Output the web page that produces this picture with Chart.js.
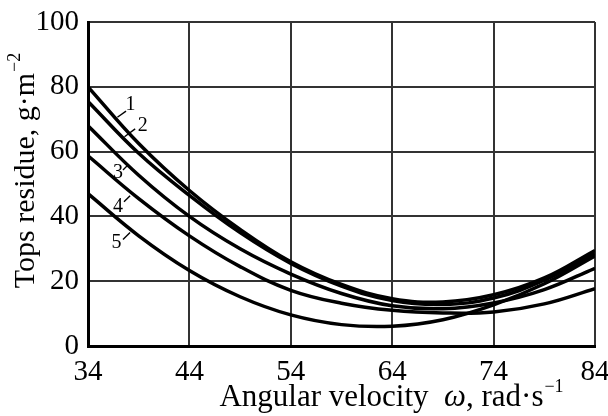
<!DOCTYPE html>
<html>
<head>
<meta charset="utf-8">
<script src="https://cdn.jsdelivr.net/npm/chart.js@4"></script>
<style>
  html, body { margin: 0; padding: 0; background: #fff; }
  #wrap { width: 608px; height: 416px; }
</style>
</head>
<body>
<div id="wrap"><canvas id="chart"></canvas></div>
<script>
/* ── Data ─────────────────────────────────────────── */
const omega = [34, 39, 44, 49, 54, 59, 64, 69, 74, 79, 84];
const curve1 = [80, 62.5, 48, 36, 26, 19, 14.6, 13.6, 15.8, 21, 29.5];
const curve2 = [75.5, 59.5, 46.5, 35, 25.5, 18.5, 14, 12.8, 14.8, 20.3, 28.5];
const curve3 = [68, 52.7, 40, 30, 22.2, 16.2, 12.4, 11.5, 13.3, 17.4, 24];
const curve4 = [58.7, 45.5, 34, 24.5, 17.2, 13.2, 11, 10.2, 10.5, 13, 17.7];
const curve5 = [47, 34, 23.3, 15.2, 9.6, 6.6, 6.1, 8.1, 12.7, 19.2, 27.8];
const xTicks = [34, 44, 54, 64, 74, 84];
const yTicks = [0, 20, 40, 60, 80, 100];

// curve numbers and their leader lines (data units)
const labelText = ['1', '2', '3', '4', '5'];
const labelX = [38.2, 39.4, 36.95, 36.95, 36.8];
const labelY = [74.4, 67.9, 53.4, 43.1, 31.8];
const leaders = [
  [36.9, 70.6, 37.75, 72.5],
  [37.6, 64.6, 38.65, 67.0],
  [37.45, 54.3, 37.95, 55.9],
  [37.55, 44.5, 38.15, 46.4],
  [37.45, 32.9, 38.15, 35.0]
];

const SERIF = '"Liberation Serif", "Times New Roman", serif';

/* ── Plugin: teks sumbu & nomor kurva ─────────────── */
const decor = {
  id: 'decor',
  afterDraw(chart) {
    const { ctx, scales: { x, y } } = chart;
    ctx.save();
    ctx.fillStyle = '#000';
    ctx.strokeStyle = '#000';

    // nomor kurva
    ctx.font = '20px ' + SERIF;
    ctx.textAlign = 'center';
    ctx.textBaseline = 'middle';
    labelText.forEach((t, i) => {
      ctx.fillText(t, x.getPixelForValue(labelX[i]), y.getPixelForValue(labelY[i]));
      const l = leaders[i];
      ctx.lineWidth = 1.4;
      ctx.beginPath();
      ctx.moveTo(x.getPixelForValue(l[0]), y.getPixelForValue(l[1]));
      ctx.lineTo(x.getPixelForValue(l[2]), y.getPixelForValue(l[3]));
      ctx.stroke();
    });

    // judul sumbu X
    ctx.textAlign = 'left';
    ctx.textBaseline = 'alphabetic';
    const f = '31px ' + SERIF, fi = 'italic 31px ' + SERIF, fs = '18px ' + SERIF;
    const parts = [['Angular velocity  ', f], ['\u03c9', fi], [', rad\u00b7s', f]];
    let w = 0;
    parts.forEach(p => { ctx.font = p[1]; w += ctx.measureText(p[0]).width; });
    ctx.font = fs; const supW = ctx.measureText('\u22121').width;
    let cx = 391 - (w + supW) / 2;
    const base = 406;
    parts.forEach(p => { ctx.font = p[1]; ctx.fillText(p[0], cx, base); cx += ctx.measureText(p[0]).width; });
    ctx.font = fs; ctx.fillText('\u22121', cx + 1, base - 14);

    // judul sumbu Y
    ctx.translate(34, 171);
    ctx.rotate(-Math.PI / 2);
    ctx.font = '30px ' + SERIF;
    const yt = 'Tops residue, g\u00b7m';
    const ytW = ctx.measureText(yt).width;
    ctx.font = fs; const sup2 = ctx.measureText('\u22122').width;
    const sx = -(ytW + sup2) / 2;
    ctx.font = '30px ' + SERIF; ctx.fillText(yt, sx, 0);
    ctx.font = fs; ctx.fillText('\u22122', sx + ytW + 1, -14);
    ctx.restore();
  }
};

/* ── Chart ────────────────────────────────────────── */
const mk = (arr) => ({
  data: arr.map((v, i) => ({ x: omega[i], y: v })),
  borderColor: '#000',
  borderWidth: 3.5,
  pointRadius: 0,
  tension: 0.4,
  fill: false
});

new Chart(document.getElementById('chart'), {
  type: 'line',
  data: { datasets: [mk(curve1), mk(curve2), mk(curve3), mk(curve4), mk(curve5)] },
  options: {
    responsive: true,
    maintainAspectRatio: false,
    animation: false,
    layout: { padding: { left: 0, top: 22, right: 13, bottom: 0 } },
    plugins: { legend: { display: false }, tooltip: { enabled: false } },
    scales: {
      x: {
        type: 'linear', min: 34, max: 84,
        afterBuildTicks: s => { s.ticks = xTicks.map(v => ({ value: v })); },
        afterFit: s => { s.height = 70; s.paddingLeft = 0; s.paddingRight = 0; },
        ticks: { color: '#000', font: { family: SERIF, size: 29 }, padding: 9, maxRotation: 0 },
        grid: { color: '#333', lineWidth: 2, drawTicks: false },
        border: { color: '#000', width: 3 }
      },
      y: {
        min: 0, max: 100,
        afterBuildTicks: s => { s.ticks = yTicks.map(v => ({ value: v })); },
        afterFit: s => { s.width = 88; s.paddingTop = 0; s.paddingBottom = 0; },
        ticks: { color: '#000', font: { family: SERIF, size: 29 }, padding: 9 },
        grid: { color: '#333', lineWidth: 2, drawTicks: false },
        border: { color: '#000', width: 3 }
      }
    }
  },
  plugins: [decor]
});
</script>
</body>
</html>
